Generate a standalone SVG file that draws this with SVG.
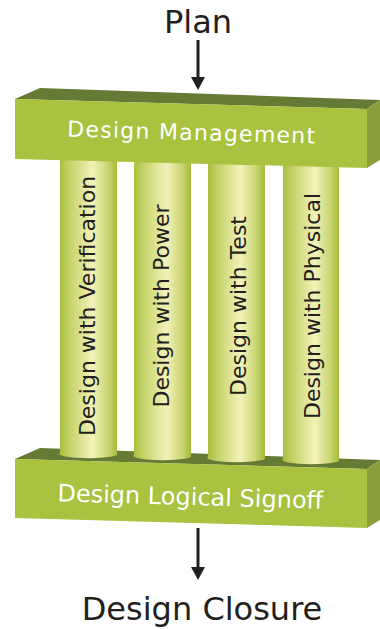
<svg xmlns="http://www.w3.org/2000/svg" width="380" height="629" viewBox="0 0 380 629">
  <defs>
    <linearGradient id="pillarGrad" x1="0" y1="0" x2="1" y2="0">
      <stop offset="0" stop-color="#a7bd3b"/>
      <stop offset="0.18" stop-color="#c4d268"/>
      <stop offset="0.58" stop-color="#f4f2b9"/>
      <stop offset="0.85" stop-color="#c8d470"/>
      <stop offset="1" stop-color="#a6bc3a"/>
    </linearGradient>
  </defs>
  <style>
    .front { fill: #a9c23f; }
    .topface { fill: #657b34; }
    .side { fill: #8a9e3b; }
    .pillar { fill: url(#pillarGrad); }
    .boxtext { font-family: "DejaVu Sans", sans-serif; fill: #ffffff; text-anchor: middle; }
    .ptext { font-family: "DejaVu Sans", sans-serif; font-size: 22px; fill: #231f20; text-anchor: middle; }
    .label { font-family: "DejaVu Sans", sans-serif; font-size: 32px; fill: #231f20; text-anchor: middle; }
    .conn { stroke: #231f20; stroke-width: 3; fill: none; }
    .head { fill: #231f20; }
  </style>

  <g id="node-plan">
    <text class="label" x="198" y="33" font-size="33">Plan</text>
  </g>

  <g id="node-signoff">
    <polygon class="topface" points="15,459 40,448 380,460 367,469"/>
    <polygon class="side" points="367,469 380,460 380,520 367,528"/>
    <polygon class="front" points="15,459 367,469 367,528 15,518"/>
    <text class="boxtext" font-size="24" transform="translate(190,505) rotate(1.6)" x="0" y="0">Design Logical Signoff</text>
  </g>

  <g id="node-pillar1">
    <path class="pillar" d="M60,150 L60,453 A28.5,4 0 0 0 117,455 L117,150 Z"/>
    <text class="ptext" transform="translate(95,306) rotate(-90)">Design with Verification</text>
  </g>
  <g id="node-pillar2">
    <path class="pillar" d="M134,150 L134,455 A28.5,4 0 0 0 191,457 L191,150 Z"/>
    <text class="ptext" transform="translate(169,306) rotate(-90)">Design with Power</text>
  </g>
  <g id="node-pillar3">
    <path class="pillar" d="M208,150 L208,457 A28.5,4 0 0 0 265,459 L265,150 Z"/>
    <text class="ptext" transform="translate(246,306) rotate(-90)">Design with Test</text>
  </g>
  <g id="node-pillar4">
    <path class="pillar" d="M283,150 L283,459 A28,4 0 0 0 339,461 L339,150 Z"/>
    <text class="ptext" transform="translate(320,306) rotate(-90)">Design with Physical</text>
  </g>

  <g id="node-mgmt">
    <polygon class="topface" points="15,99 40,88 380,100 367,109"/>
    <polygon class="side" points="367,109 380,100 380,160 367,168"/>
    <polygon class="front" points="15,99 367,109 367,168 15,159"/>
    <text class="boxtext" font-size="22" transform="translate(191,140) rotate(1.6)" x="0" y="0" textLength="248" lengthAdjust="spacing">Design Management</text>
  </g>

  <g id="node-closure">
    <text class="label" x="202" y="620">Design Closure</text>
  </g>

  <g id="connectors">
    <line class="conn" x1="198" y1="40" x2="198" y2="79"/>
    <polygon class="head" points="191,77 205,77 198,90"/>
    <line class="conn" x1="198" y1="528" x2="198" y2="569"/>
    <polygon class="head" points="191,567 205,567 198,580"/>
  </g>
</svg>
